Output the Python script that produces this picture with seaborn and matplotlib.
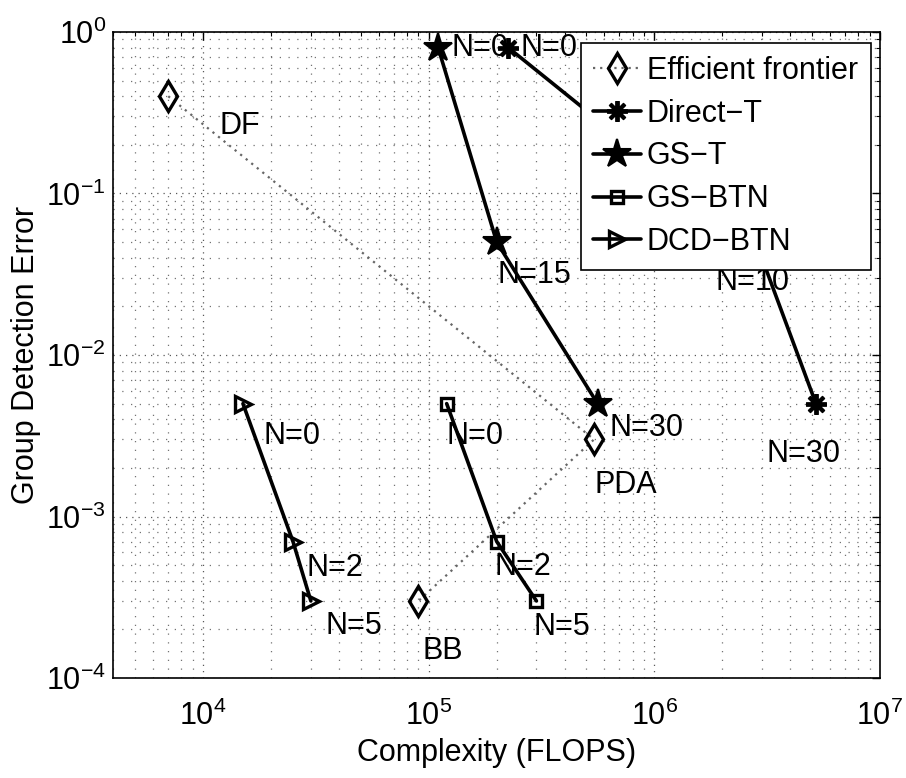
import matplotlib
matplotlib.use("Agg")
import matplotlib.pyplot as plt
import seaborn as sns
import pandas as pd
from matplotlib.ticker import LogLocator, NullFormatter

# ---- data -------------------------------------------------------------
frontier_flops = [7e3, 5.4e5, 9e4]
frontier_err = [0.4, 3e-3, 3e-4]
frontier_tags = ["DF", "PDA", "BB"]

direct_t_flops = [2.25e5, 2.9e6, 5.2e6]
direct_t_err = [0.8, 0.045, 5e-3]
direct_t_tags = ["N=0", "N=10", "N=30"]

gs_t_flops = [1.1e5, 2.0e5, 5.6e5]
gs_t_err = [0.8, 0.05, 5e-3]
gs_t_tags = ["N=0", "N=15", "N=30"]

gs_btn_flops = [1.2e5, 2.0e5, 3.0e5]
gs_btn_err = [5e-3, 7e-4, 3e-4]
gs_btn_tags = ["N=0", "N=2", "N=5"]

dcd_btn_flops = [1.5e4, 2.5e4, 3.0e4]
dcd_btn_err = [5e-3, 7e-4, 3e-4]
dcd_btn_tags = ["N=0", "N=2", "N=5"]

# ---- style ------------------------------------------------------------
sns.set_theme(style="white")
FAMILY = ["Liberation Sans", "DejaVu Sans"]
plt.rcParams["font.family"] = FAMILY
plt.rcParams["mathtext.fontset"] = "custom"
plt.rcParams["mathtext.rm"] = "Liberation Sans"
plt.rcParams["mathtext.it"] = "Liberation Sans"
plt.rcParams["mathtext.bf"] = "Liberation Sans"
for key in ("text.color", "axes.labelcolor", "xtick.color", "ytick.color",
            "axes.edgecolor"):
    plt.rcParams[key] = "black"
FS = 22

fig = plt.figure(figsize=(9.06, 7.78), dpi=100)
ax = fig.add_axes([0.1247, 0.1285, 0.8466, 0.8304])

series = [
    ("Efficient frontier", frontier_flops, frontier_err, frontier_tags,
     dict(marker="d", markersize=15, linestyle=(0, (1, 2.2)), linewidth=1.6,
          color="0.4", mec="black", mfc="none", mew=2.4)),
    ("Direct\u2212T", direct_t_flops, direct_t_err, direct_t_tags,
     dict(marker=(8, 2, 0), markersize=15, linestyle="-", linewidth=2.6,
          color="black", mec="black", mew=2.8)),
    ("GS\u2212T", gs_t_flops, gs_t_err, gs_t_tags,
     dict(marker="*", markersize=21, linestyle="-", linewidth=2.6,
          color="black", mec="black", mfc="black", mew=1.5)),
    ("GS\u2212BTN", gs_btn_flops, gs_btn_err, gs_btn_tags,
     dict(marker="s", markersize=8, linestyle="-", linewidth=2.6,
          color="black", mec="black", mfc="none", mew=2.4)),
    ("DCD\u2212BTN", dcd_btn_flops, dcd_btn_err, dcd_btn_tags,
     dict(marker=">", markersize=12, linestyle="-", linewidth=2.6,
          color="black", mec="black", mfc="none", mew=2.4)),
]

# label offsets in pixels (right, up) relative to each point
tag_offsets = {
    "Efficient frontier": [(51, -30), (0, -46), (4, -50)],
    "Direct\u2212T": [(12, 0), (-43, -33), (-49, -50)],
    "GS\u2212T": [(13, 0), (1, -33), (12, -24)],
    "GS\u2212BTN": [(0, -32), (-2, -25), (-3, -26)],
    "DCD\u2212BTN": [(21, -32), (14, -26), (15, -25)],
}

for name, xs, ys, tags, kw in series:
    df = pd.DataFrame({"flops": xs, "err": ys})
    sns.lineplot(data=df, x="flops", y="err", ax=ax, sort=False,
                 label=name, clip_on=False, zorder=3, **kw)
    for x, y, t, off in zip(xs, ys, tags, tag_offsets[name]):
        ax.annotate(t, (x, y), xytext=off, textcoords="offset pixels",
                    ha="left", va="center", fontsize=FS, color="black",
                    zorder=4)

ax.set_xscale("log")
ax.set_yscale("log")
ax.set_xlim(10 ** 3.6, 1e7)
ax.set_ylim(1e-4, 1)

ax.xaxis.set_major_locator(LogLocator(base=10, numticks=10))
ax.yaxis.set_major_locator(LogLocator(base=10, numticks=10))
ax.xaxis.set_minor_locator(LogLocator(base=10, subs=range(2, 10), numticks=20))
ax.yaxis.set_minor_locator(LogLocator(base=10, subs=range(2, 10), numticks=20))
ax.xaxis.set_minor_formatter(NullFormatter())
ax.yaxis.set_minor_formatter(NullFormatter())

ax.grid(True, which="major", linestyle=(0, (1, 4)), linewidth=0.9, color="0.35")
ax.grid(True, which="minor", linestyle=(0, (1, 6)), linewidth=0.9, color="0.45")
ax.set_axisbelow(True)

ax.tick_params(which="both", direction="in", top=True, right=True,
               colors="black", labelsize=FS)
ax.tick_params(which="major", length=6, width=1)
ax.tick_params(which="minor", length=3, width=0.8)
ax.tick_params(axis="x", pad=16)
ax.tick_params(axis="y", pad=5)
for s in ax.spines.values():
    s.set_color("black")
    s.set_linewidth(1.2)

ax.set_xlabel("Complexity (FLOPS)", fontsize=FS, labelpad=5)
ax.set_ylabel("Group Detection Error", fontsize=FS, labelpad=4)

handles, labels = ax.get_legend_handles_labels()
leg = ax.legend(handles, labels, loc="upper right",
                bbox_to_anchor=(0.988, 0.983), borderaxespad=0,
                fontsize=FS, frameon=True, fancybox=False, framealpha=1,
                edgecolor="black", handlelength=1.55, handletextpad=0.2,
                labelspacing=0.42, borderpad=0.42)
leg.get_frame().set_linewidth(1.2)
leg.set_zorder(10)

fig.savefig("out.png", dpi=100)
